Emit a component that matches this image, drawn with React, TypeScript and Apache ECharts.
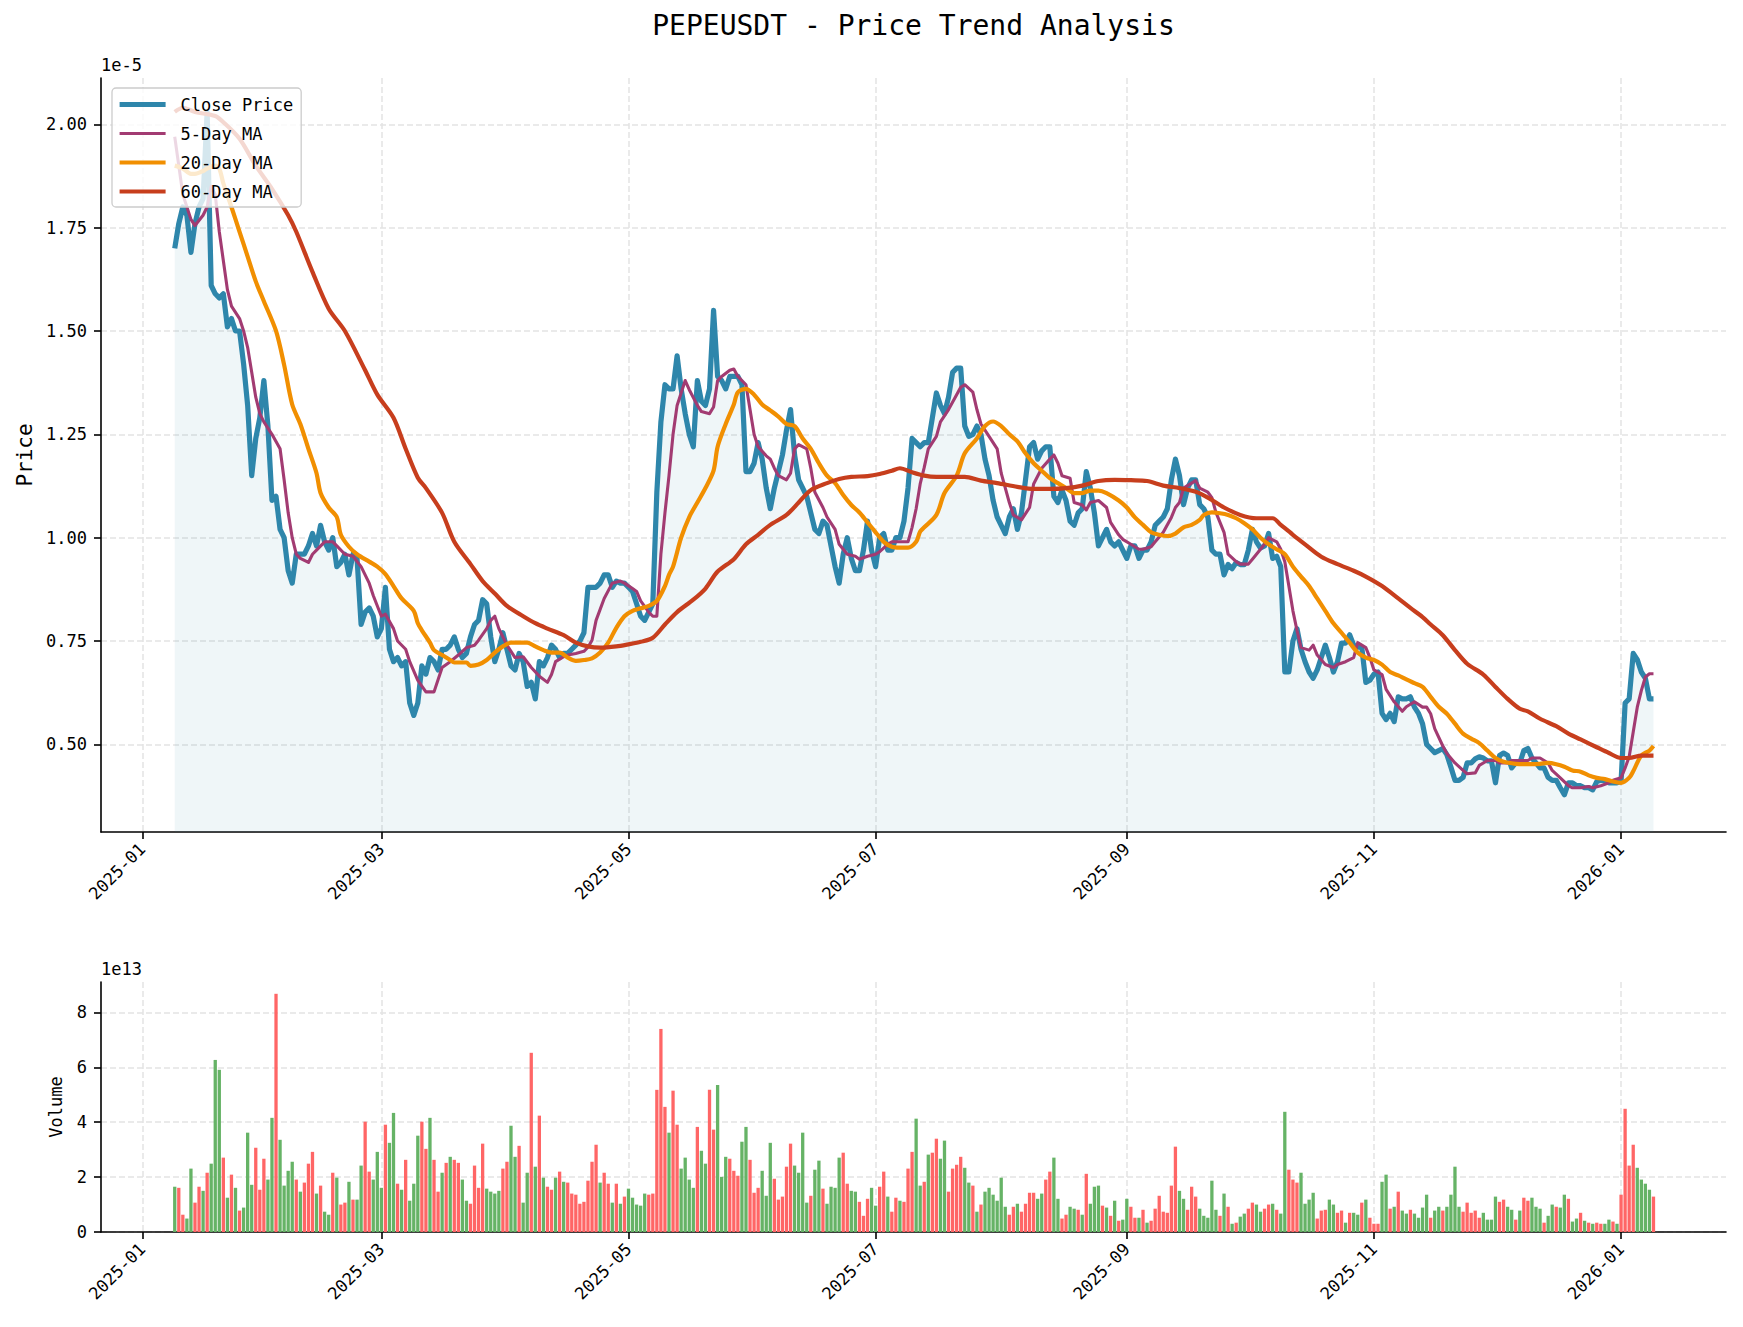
import React, { useEffect, useRef } from "react";
import * as echarts from "echarts";

// ---------------- DATA ----------------
// days are counted from 2025-01-01 (day 0); the series start on day 8 = 2025-01-09
const BASE_DATE = "2025-01-01";
const FIRST_DAY = 8;

// daily close price, in units of 1e-5 USDT (2025-01-09 .. 2026-01-09)
const CLOSE = [
  1.70, 1.76, 1.80, 1.78, 1.69, 1.76, 1.80, 1.82, 2.03, 1.61,
  1.59, 1.58, 1.59, 1.51, 1.53, 1.50, 1.50, 1.42, 1.32, 1.15,
  1.24, 1.29, 1.38, 1.27, 1.09, 1.10, 1.02, 1.00, 0.92, 0.89,
  0.96, 0.96, 0.96, 0.98, 1.01, 0.98, 1.03, 0.99, 0.97, 1.00,
  0.93, 0.94, 0.96, 0.91, 0.96, 0.95, 0.79, 0.82, 0.83, 0.81,
  0.76, 0.78, 0.88, 0.73, 0.70, 0.71, 0.69, 0.70, 0.60, 0.57,
  0.60, 0.69, 0.67, 0.71, 0.70, 0.68, 0.73, 0.73, 0.74, 0.76,
  0.73, 0.71, 0.72, 0.76, 0.79, 0.80, 0.85, 0.84, 0.76, 0.70,
  0.73, 0.77, 0.73, 0.69, 0.68, 0.72, 0.70, 0.64, 0.65, 0.61,
  0.70, 0.69, 0.71, 0.74, 0.73, 0.71, 0.72, 0.72, 0.73, 0.74,
  0.75, 0.77, 0.88, 0.88, 0.88, 0.89, 0.91, 0.91, 0.88, 0.895,
  0.89, 0.89, 0.88, 0.87, 0.84, 0.81, 0.80, 0.82, 0.84, 1.11,
  1.28, 1.37, 1.36, 1.36, 1.44, 1.36, 1.30, 1.25, 1.22, 1.38,
  1.33, 1.32, 1.36, 1.55, 1.39, 1.38, 1.36, 1.39, 1.39, 1.39,
  1.37, 1.16, 1.16, 1.18, 1.23, 1.19, 1.12, 1.07, 1.12, 1.16,
  1.20, 1.26, 1.31, 1.20, 1.14, 1.12, 1.10, 1.06, 1.02, 1.01,
  1.04, 1.03, 0.98, 0.93, 0.89, 0.96, 1.00, 0.95, 0.92, 0.92,
  0.97, 1.04, 0.97, 0.93, 1.00, 1.01, 0.97, 0.97, 1.00, 1.00,
  1.04, 1.12, 1.24, 1.23, 1.22, 1.23, 1.23, 1.29, 1.35, 1.32,
  1.30, 1.34, 1.40, 1.41, 1.41, 1.27, 1.245, 1.25, 1.27, 1.25,
  1.19, 1.15, 1.09, 1.05, 1.03, 1.01, 1.05, 1.07, 1.02, 1.06,
  1.14, 1.22, 1.23, 1.19, 1.21, 1.22, 1.22, 1.10, 1.085, 1.115,
  1.09, 1.04, 1.03, 1.06, 1.07, 1.16, 1.12, 1.06, 0.98, 1.00,
  1.02, 0.99, 0.98, 0.99, 0.97, 0.95, 0.98, 0.98, 0.95, 0.97,
  0.97, 0.99, 1.03, 1.04, 1.05, 1.07, 1.14, 1.19, 1.15, 1.08,
  1.12, 1.14, 1.14, 1.08, 1.07, 1.05, 0.97, 0.96, 0.96, 0.91,
  0.935, 0.925, 0.94, 0.935, 0.935, 0.97, 1.02, 0.99, 0.975, 0.98,
  1.01, 0.95, 0.955, 0.93, 0.675, 0.675, 0.75, 0.78, 0.73, 0.70,
  0.675, 0.66, 0.68, 0.71, 0.74, 0.71, 0.675, 0.70, 0.745, 0.745,
  0.765, 0.74, 0.735, 0.735, 0.65, 0.655, 0.67, 0.675, 0.575, 0.56,
  0.575, 0.555, 0.615, 0.61, 0.61, 0.615, 0.59, 0.575, 0.55, 0.50,
  0.49, 0.48, 0.485, 0.49, 0.475, 0.445, 0.413, 0.413, 0.42, 0.455,
  0.455, 0.465, 0.47, 0.467, 0.46, 0.46, 0.407, 0.473, 0.479, 0.473,
  0.443, 0.455, 0.455, 0.485, 0.49, 0.467, 0.455, 0.443, 0.443, 0.42,
  0.413, 0.413, 0.395, 0.378, 0.407, 0.407, 0.40, 0.40, 0.395, 0.395,
  0.39, 0.41, 0.413, 0.413, 0.407, 0.407, 0.407, 0.41, 0.60, 0.61,
  0.72, 0.705, 0.675, 0.66, 0.61, 0.61,
];

// daily volume, in units of 1e13
const VOLUME = [
  1.65, 1.61, 0.63, 0.49, 2.31, 1.07, 1.65, 1.50, 2.16, 2.49,
  6.27, 5.91, 2.71, 1.25, 2.09, 1.61, 0.78, 0.89, 3.62, 1.72,
  3.07, 1.54, 2.67, 1.91, 4.16, 8.68, 3.36, 1.69, 2.23, 2.56,
  1.91, 1.47, 1.80, 2.49, 2.92, 1.40, 1.69, 0.74, 0.63, 2.16,
  1.98, 1.00, 1.07, 1.83, 1.18, 1.18, 2.42, 4.02, 2.20, 1.91,
  2.92, 1.61, 3.91, 3.25, 4.34, 1.76, 1.54, 2.63, 1.14, 1.76,
  3.51, 4.02, 3.03, 4.16, 2.63, 1.47, 2.16, 2.52, 2.74, 2.63,
  2.52, 1.91, 1.14, 1.03, 2.42, 1.61, 3.22, 1.58, 1.47, 1.40,
  1.50, 2.31, 2.56, 3.87, 2.74, 3.14, 1.07, 2.16, 6.53, 2.38,
  4.24, 1.98, 1.65, 1.54, 1.98, 2.20, 1.83, 1.80, 1.40, 1.36,
  1.03, 1.10, 1.87, 2.56, 3.18, 1.80, 2.16, 1.76, 1.07, 1.76,
  1.03, 1.29, 1.58, 1.25, 1.00, 0.96, 1.40, 1.36, 1.40, 5.18,
  7.40, 4.56, 3.62, 5.15, 3.91, 2.31, 2.71, 1.91, 1.61, 3.83,
  2.96, 2.49, 5.18, 3.73, 5.36, 2.01, 2.74, 2.67, 2.23, 2.05,
  3.29, 3.83, 2.63, 1.43, 1.61, 2.23, 1.32, 3.25, 1.94, 1.18,
  1.29, 2.38, 3.22, 2.42, 2.16, 3.62, 1.07, 1.32, 2.27, 2.60,
  1.58, 1.03, 1.65, 1.61, 2.71, 2.89, 1.76, 1.50, 1.47, 1.10,
  0.59, 1.21, 1.61, 0.96, 1.65, 2.20, 1.29, 0.74, 1.25, 1.14,
  1.10, 2.31, 2.92, 4.13, 1.69, 1.83, 2.82, 2.89, 3.40, 2.67,
  3.33, 1.47, 2.31, 2.45, 2.74, 2.34, 1.80, 1.69, 0.74, 1.00,
  1.47, 1.61, 1.36, 1.14, 1.98, 0.92, 0.63, 0.92, 1.03, 0.74,
  1.03, 1.43, 1.43, 1.21, 1.40, 1.91, 2.20, 2.71, 1.21, 0.49,
  0.63, 0.92, 0.85, 0.81, 0.63, 2.12, 1.03, 1.65, 1.69, 0.96,
  0.89, 0.59, 1.14, 0.41, 0.45, 1.21, 0.92, 0.52, 0.52, 0.81,
  0.34, 0.41, 0.85, 1.32, 0.74, 0.70, 1.69, 3.11, 1.50, 1.21,
  0.81, 1.65, 1.29, 0.85, 0.59, 0.52, 1.87, 0.81, 0.59, 1.40,
  0.92, 0.30, 0.34, 0.56, 0.67, 0.85, 1.07, 1.00, 0.74, 0.85,
  1.00, 1.03, 0.81, 0.67, 4.38, 2.27, 1.91, 1.80, 2.16, 1.03,
  1.18, 1.43, 0.49, 0.78, 0.81, 1.18, 1.00, 0.70, 0.78, 0.34,
  0.70, 0.70, 0.63, 1.07, 1.18, 0.52, 0.30, 0.30, 1.83, 2.09,
  0.85, 0.92, 1.47, 0.78, 0.67, 0.81, 0.67, 0.52, 0.89, 1.36,
  0.52, 0.78, 0.92, 0.78, 0.92, 1.36, 2.38, 0.92, 0.74, 1.07,
  0.70, 0.78, 0.52, 0.70, 0.45, 0.45, 1.29, 1.10, 1.18, 0.92,
  0.81, 0.45, 0.78, 1.25, 1.14, 1.25, 0.92, 0.85, 0.34, 0.59,
  1.00, 0.92, 0.89, 1.36, 1.21, 0.38, 0.49, 0.70, 0.41, 0.34,
  0.30, 0.34, 0.30, 0.30, 0.45, 0.38, 0.30, 1.36, 4.49, 2.42,
  3.18, 2.34, 1.91, 1.76, 1.54, 1.29,
];

// G = up day (green bar), R = down day (red bar)
const VOLUME_DIR =
  "GRRGGRRGRG" + "GGRGRGRGGG" + "RRRGGRGGGG" + "RGRRRGRGGR" + "GRRGRGGRRG" +
  "GGRGGRGRGG" + "GRRGRRGRGR" + "RGGRRRRGGG" + "GRRGGRGGRG" + "RGRRGRGRRR" +
  "RRRRRGRRGR" + "GRGGGGGRRR" + "RRGRRGGGGR" + "GGRRGGGRRR" + "GGRRRGGGRR" +
  "RRRGGGGRGG" + "RGGGGRRGGR" + "RRGGRRGRRG" + "RRRGGRGRRG" + "GRRRRGGRGR" +
  "GGGGGGRRGR" + "RRRGGRRGGR" + "RGGRGRGGGR" + "GRGRGGRRGR" + "GRRRRRRRGG" +
  "RRRGGGGGRG" + "RGRGGRRGGR" + "RGRGGRRRGG" + "GGRRRGGRRG" + "RGGRGRRRGG" +
  "RGRGGRGGGG" + "RGGRGGGGRR" + "RRRGGGGRRG" + "GRGRRGGGRG" + "GRGGRGGRGR" +
  "GRRGGRGRRR" + "RGGGGR";

// moving averages: [day, value]
const MA5: [number, number][] = [
  [8,1.97],[10,1.83],[12,1.77],[13,1.755],[15,1.78],[16,1.80],[17,1.85],[18,1.83],[19,1.74],[20,1.67],
  [21,1.60],[22,1.56],[24,1.53],[25,1.50],[26,1.46],[27,1.40],[28,1.34],[29,1.30],[30,1.28],[32,1.25],
  [34,1.215],[35,1.14],[36,1.06],[37,1.00],[38,0.96],[39,0.95],[41,0.94],[42,0.96],[43,0.97],[45,0.99],
  [47,0.99],[48,0.98],[50,0.96],[52,0.955],[54,0.93],[56,0.89],[57,0.86],[59,0.81],[60,0.815],[62,0.78],
  [63,0.75],[65,0.73],[66,0.70],[68,0.655],[70,0.627],[72,0.627],[74,0.686],[76,0.70],[78,0.716],[80,0.734],
  [82,0.74],[83,0.752],[85,0.78],[86,0.80],[87,0.81],[88,0.78],[90,0.74],[91,0.725],[92,0.71],[94,0.712],
  [96,0.686],[98,0.665],[100,0.65],[101,0.669],[102,0.70],[104,0.712],[105,0.716],[107,0.72],[109,0.725],[110,0.735],
  [111,0.752],[112,0.80],[114,0.853],[116,0.89],[118,0.895],[119,0.89],[121,0.877],[122,0.87],[123,0.847],[125,0.82],
  [126,0.81],[127,0.81],[128,0.96],[129,1.06],[130,1.15],[131,1.25],[132,1.32],[133,1.35],[134,1.38],[135,1.358],
  [137,1.32],[138,1.305],[140,1.30],[141,1.316],[142,1.38],[143,1.39],[145,1.405],[146,1.408],[147,1.39],[149,1.37],
  [150,1.31],[151,1.25],[152,1.22],[154,1.198],[155,1.19],[156,1.168],[157,1.15],[159,1.14],[160,1.156],[161,1.215],
  [162,1.225],[164,1.215],[165,1.168],[166,1.11],[168,1.073],[169,1.05],[171,1.02],[172,0.984],[174,0.96],[176,0.955],
  [177,0.948],[179,0.955],[181,0.96],[182,0.966],[184,0.984],[185,0.99],[187,0.99],[189,0.99],[190,1.025],[191,1.07],
  [192,1.13],[193,1.17],[194,1.215],[196,1.245],[197,1.28],[199,1.31],[201,1.346],[202,1.364],[203,1.37],[205,1.352],
  [206,1.31],[207,1.275],[209,1.245],[211,1.215],[212,1.156],[214,1.085],[215,1.055],[217,1.043],[219,1.073],[220,1.13],
  [222,1.168],[224,1.19],[225,1.20],[226,1.18],[227,1.15],[229,1.144],[230,1.085],[232,1.079],[233,1.067],[234,1.085],
  [236,1.09],[238,1.073],[239,1.037],[241,1.007],[242,0.996],[244,0.984],[246,0.972],[247,0.972],[249,0.978],[250,0.99],
  [252,1.013],[254,1.049],[255,1.073],[256,1.085],[257,1.12],[259,1.132],[260,1.138],[261,1.12],[263,1.11],[264,1.097],
  [265,1.061],[267,1.013],[268,0.96],[270,0.942],[271,0.936],[273,0.936],[274,0.948],[276,0.972],[277,0.984],[278,1.00],
  [280,0.99],[281,0.972],[282,0.942],[283,0.883],[284,0.823],[285,0.776],[286,0.734],[288,0.728],[289,0.74],[290,0.716],
  [292,0.693],[294,0.686],[295,0.693],[297,0.70],[299,0.71],[300,0.746],[302,0.734],[303,0.71],[304,0.68],[306,0.669],
  [307,0.633],[309,0.603],[311,0.58],[312,0.591],[314,0.603],[316,0.59],[317,0.59],[318,0.574],[319,0.538],[321,0.496],
  [322,0.478],[324,0.455],[326,0.437],[327,0.429],[329,0.431],[330,0.449],[332,0.461],[334,0.461],[335,0.455],[337,0.455],
  [338,0.461],[340,0.461],[342,0.461],[343,0.467],[345,0.467],[347,0.455],[348,0.437],[350,0.419],[352,0.40],[353,0.395],
  [355,0.395],[357,0.398],[358,0.395],[360,0.40],[362,0.407],[363,0.413],[365,0.419],[366,0.443],[367,0.47],[368,0.53],
  [369,0.59],[370,0.63],[371,0.663],[372,0.671],[373,0.671],
];

const MA20: [number, number][] = [
  [8,1.90],[10,1.893],[12,1.88],[13,1.88],[15,1.887],[16,1.893],[18,1.90],[19,1.893],[20,1.857],[22,1.80],
  [24,1.74],[26,1.68],[28,1.62],[30,1.572],[33,1.50],[35,1.418],[37,1.322],[39,1.275],[41,1.215],[43,1.156],
  [44,1.108],[46,1.073],[48,1.05],[49,1.007],[51,0.978],[53,0.96],[56,0.942],[58,0.93],[60,0.912],[62,0.883],
  [64,0.853],[67,0.823],[68,0.793],[69,0.776],[71,0.746],[72,0.728],[74,0.716],[76,0.704],[77,0.698],[80,0.698],
  [81,0.69],[83,0.693],[85,0.704],[87,0.722],[89,0.737],[91,0.746],[93,0.746],[95,0.746],[97,0.737],[99,0.728],
  [101,0.722],[103,0.722],[105,0.71],[107,0.702],[109,0.704],[111,0.708],[113,0.722],[115,0.746],[117,0.782],[119,0.81],
  [121,0.823],[123,0.829],[125,0.835],[127,0.847],[129,0.883],[130,0.91],[131,0.93],[133,1.00],[135,1.05],[137,1.085],
  [139,1.12],[141,1.162],[142,1.22],[144,1.275],[146,1.322],[147,1.352],[149,1.36],[151,1.346],[153,1.322],[155,1.308],
  [157,1.293],[159,1.275],[161,1.27],[163,1.24],[165,1.215],[167,1.18],[169,1.15],[171,1.132],[173,1.103],[175,1.079],
  [177,1.061],[179,1.037],[181,1.013],[183,0.99],[185,0.978],[187,0.976],[189,0.976],[191,0.99],[192,1.015],[193,1.025],
  [196,1.055],[198,1.108],[201,1.15],[203,1.204],[206,1.24],[208,1.27],[210,1.281],[212,1.27],[214,1.25],[216,1.233],
  [218,1.204],[220,1.18],[222,1.162],[224,1.144],[226,1.132],[228,1.12],[230,1.108],[232,1.108],[234,1.114],[236,1.114],
  [238,1.108],[241,1.09],[243,1.073],[245,1.049],[247,1.031],[249,1.013],[251,1.007],[253,1.004],[255,1.01],[257,1.025],
  [259,1.031],[261,1.043],[262,1.055],[264,1.061],[266,1.059],[268,1.055],[270,1.047],[272,1.035],[274,1.02],[276,1.00],
  [278,0.984],[280,0.972],[282,0.96],[284,0.93],[286,0.906],[288,0.883],[290,0.853],[292,0.823],[294,0.793],[296,0.77],
  [298,0.746],[300,0.722],[302,0.71],[304,0.704],[306,0.693],[308,0.675],[310,0.667],[312,0.657],[314,0.648],[316,0.639],
  [318,0.615],[320,0.591],[322,0.574],[324,0.55],[326,0.526],[328,0.514],[330,0.503],[332,0.485],[334,0.467],[336,0.458],
  [339,0.453],[341,0.452],[343,0.452],[345,0.453],[347,0.455],[349,0.452],[351,0.446],[353,0.437],[355,0.434],[357,0.425],
  [359,0.419],[361,0.416],[363,0.41],[365,0.407],[367,0.419],[368,0.435],[370,0.473],[372,0.485],[373,0.496],
];

const MA60: [number, number][] = [
  [8,2.03],[10,2.04],[13,2.03],[18,2.02],[20,2.005],[24,1.965],[28,1.90],[32,1.844],[36,1.78],[38,1.74],
  [42,1.643],[46,1.554],[50,1.50],[55,1.405],[58,1.346],[62,1.29],[65,1.215],[68,1.145],[70,1.12],[74,1.06],
  [77,0.99],[81,0.936],[84,0.895],[87,0.865],[90,0.835],[94,0.81],[97,0.793],[100,0.78],[104,0.764],[107,0.746],
  [110,0.737],[113,0.734],[117,0.737],[120,0.742],[123,0.748],[126,0.758],[129,0.79],[132,0.82],[136,0.85],[139,0.877],
  [142,0.918],[146,0.948],[149,0.984],[152,1.007],[155,1.031],[159,1.055],[162,1.085],[165,1.115],[169,1.132],[172,1.142],
  [175,1.147],[179,1.149],[182,1.154],[185,1.162],[187,1.168],[190,1.158],[193,1.15],[196,1.147],[200,1.147],[203,1.147],
  [207,1.138],[211,1.132],[216,1.123],[220,1.118],[224,1.118],[228,1.12],[232,1.126],[236,1.137],[240,1.14],[244,1.139],
  [248,1.137],[252,1.126],[256,1.12],[260,1.111],[263,1.097],[267,1.073],[271,1.055],[275,1.047],[279,1.047],[281,1.031],
  [284,1.007],[287,0.984],[291,0.954],[295,0.936],[299,0.92],[302,0.906],[306,0.883],[310,0.853],[313,0.83],[316,0.808],
  [318,0.79],[321,0.764],[324,0.728],[327,0.695],[331,0.669],[334,0.639],[337,0.61],[340,0.586],[342,0.58],[345,0.562],
  [349,0.544],[352,0.526],[355,0.512],[359,0.493],[362,0.479],[365,0.467],[367,0.467],[370,0.473],[373,0.473],
];

const X_TICKS = ["2025-01-01", "2025-03-01", "2025-05-01", "2025-07-01", "2025-09-01", "2025-11-01", "2026-01-01"];
const PRICE_TICKS = [0.5, 0.75, 1.0, 1.25, 1.5, 1.75, 2.0];
const VOLUME_TICKS = [0, 2, 4, 6, 8];
const SERIES_NAMES = ["Close Price", "5-Day MA", "20-Day MA", "60-Day MA"];
const TITLE = "PEPEUSDT - Price Trend Analysis";

// ---------------- CHART ----------------
const DAY_MS = 86400000;
const BASE_TS = Date.parse(BASE_DATE);
const dayTs = (d: number) => BASE_TS + d * DAY_MS;

const FONT = "'DejaVu Sans Mono', 'Liberation Mono', monospace";
const BLACK = "#000000";

const fmtMonth = (v: number) => {
  const d = new Date(v);
  return d.getUTCFullYear() + "-" + String(d.getUTCMonth() + 1).padStart(2, "0");
};

function buildOption() {
  const xTickTs = X_TICKS.map((s) => Date.parse(s));
  const xMin = dayTs(-10.2);
  const xMax = dayTs(390.9);

  const gridLine = {
    show: true,
    lineStyle: { color: "#e4e4e4", width: 1.5, type: [6, 3] as number[] },
  };
  const axisLine = { show: true, onZero: false, lineStyle: { color: BLACK, width: 1.6 } };
  const tick = (vals: number[]) => ({
    show: true,
    customValues: vals,
    length: 7,
    lineStyle: { color: BLACK, width: 1.6 },
  });

  const xAxis = (gridIndex: number) => ({
    type: "value",
    gridIndex,
    min: xMin,
    max: xMax,
    axisLine,
    axisTick: tick(xTickTs),
    axisLabel: {
      customValues: xTickTs,
      rotate: 45,
      margin: 14,
      fontFamily: FONT,
      fontSize: 17,
      color: BLACK,
      formatter: (v: number) => fmtMonth(v),
    },
    splitLine: gridLine,
  });

  const closeData = CLOSE.map((v, i) => [dayTs(FIRST_DAY + i), v]);
  const volData = VOLUME.map((v, i) => ({
    value: [dayTs(FIRST_DAY + i), v],
    itemStyle: { color: VOLUME_DIR[i] === "G" ? "#66b366" : "#ff6666" },
  }));
  const maData = (arr: [number, number][]) => arr.map(([d, v]) => [dayTs(d), v]);

  return {
    animation: false,
    backgroundColor: "#ffffff",
    grid: [
      { left: 101, top: 78, width: 1625, height: 754 },
      { left: 101, top: 982, width: 1625, height: 250 },
    ],
    xAxis: [xAxis(0), xAxis(1)],
    yAxis: [
      {
        type: "value",
        gridIndex: 0,
        min: 0.288,
        max: 2.112,
        axisLine,
        axisTick: tick(PRICE_TICKS),
        axisLabel: {
          customValues: PRICE_TICKS,
          margin: 14,
          fontFamily: FONT,
          fontSize: 17,
          color: BLACK,
          formatter: (v: number) => v.toFixed(2),
        },
        splitLine: gridLine,
      },
      {
        type: "value",
        gridIndex: 1,
        min: 0,
        max: 9.11,
        axisLine,
        axisTick: tick(VOLUME_TICKS),
        axisLabel: {
          customValues: VOLUME_TICKS,
          margin: 14,
          fontFamily: FONT,
          fontSize: 17,
          color: BLACK,
          formatter: (v: number) => String(Math.round(v)),
        },
        splitLine: gridLine,
      },
    ],
    legend: {
      data: SERIES_NAMES,
      orient: "vertical",
      left: 112,
      top: 88,
      z: 20,
      itemWidth: 46,
      itemHeight: 14,
      itemGap: 12,
      padding: [8, 8, 7, 5],
      backgroundColor: "rgba(255,255,255,0.8)",
      borderColor: "#cccccc",
      borderWidth: 1.3,
      borderRadius: 4,
      selectedMode: false,
      itemStyle: { color: "rgba(0,0,0,0)", borderWidth: 0, opacity: 0 },
      lineStyle: { width: "inherit", cap: "butt" },
      textStyle: { fontFamily: FONT, fontSize: 17, color: BLACK, padding: [0, 0, 0, 10] },
    },
    graphic: [
      {
        type: "text",
        x: 913.5,
        y: 25,
        style: { text: TITLE, font: `28px ${FONT}`, fill: BLACK, textAlign: "center", textVerticalAlign: "middle" },
      },
      {
        type: "text",
        x: 101,
        y: 65,
        style: { text: "1e-5", font: `17px ${FONT}`, fill: BLACK, textAlign: "left", textVerticalAlign: "middle" },
      },
      {
        type: "text",
        x: 101,
        y: 969,
        style: { text: "1e13", font: `17px ${FONT}`, fill: BLACK, textAlign: "left", textVerticalAlign: "middle" },
      },
      {
        type: "text",
        x: 25,
        y: 455,
        rotation: Math.PI / 2,
        style: { text: "Price", font: `21px ${FONT}`, fill: BLACK, textAlign: "center", textVerticalAlign: "middle" },
      },
      {
        type: "text",
        x: 56,
        y: 1107,
        rotation: Math.PI / 2,
        style: { text: "Volume", font: `17px ${FONT}`, fill: BLACK, textAlign: "center", textVerticalAlign: "middle" },
      },
    ],
    series: [
      {
        name: SERIES_NAMES[0],
        type: "line",
        xAxisIndex: 0,
        yAxisIndex: 0,
        data: closeData,
        symbol: "none",
        lineStyle: { color: "#2E86AB", width: 5.2, join: "round" },
        itemStyle: { color: "#2E86AB" },
        areaStyle: { color: "rgba(46,134,171,0.11)", origin: "start" },
        z: 2,
      },
      {
        name: SERIES_NAMES[1],
        type: "line",
        xAxisIndex: 0,
        yAxisIndex: 0,
        data: maData(MA5),
        symbol: "none",
        lineStyle: { color: "#A23B72", width: 3.1, join: "round" },
        itemStyle: { color: "#A23B72" },
        z: 3,
      },
      {
        name: SERIES_NAMES[2],
        type: "line",
        xAxisIndex: 0,
        yAxisIndex: 0,
        data: maData(MA20),
        symbol: "none",
        smooth: 0.3,
        lineStyle: { color: "#F18F01", width: 4.2, join: "round" },
        itemStyle: { color: "#F18F01" },
        z: 4,
      },
      {
        name: SERIES_NAMES[3],
        type: "line",
        xAxisIndex: 0,
        yAxisIndex: 0,
        data: maData(MA60),
        symbol: "none",
        smooth: 0.3,
        lineStyle: { color: "#C73E1D", width: 4.2, join: "round" },
        itemStyle: { color: "#C73E1D" },
        z: 5,
      },
      {
        name: "Volume",
        type: "bar",
        xAxisIndex: 1,
        yAxisIndex: 1,
        data: volData,
        barWidth: 3.3,
      },
    ],
  };
}

export default function App() {
  const ref = useRef<HTMLDivElement>(null);
  useEffect(() => {
    document.body.style.margin = "0";
    const chart = echarts.init(ref.current!, null, { renderer: "svg" });
    chart.setOption(buildOption() as any);
    return () => chart.dispose();
  }, []);
  return (
    <div
      ref={ref}
      style={{ position: "absolute", left: 0, top: 0, width: 1743, height: 1327, background: "#fff" }}
    />
  );
}
